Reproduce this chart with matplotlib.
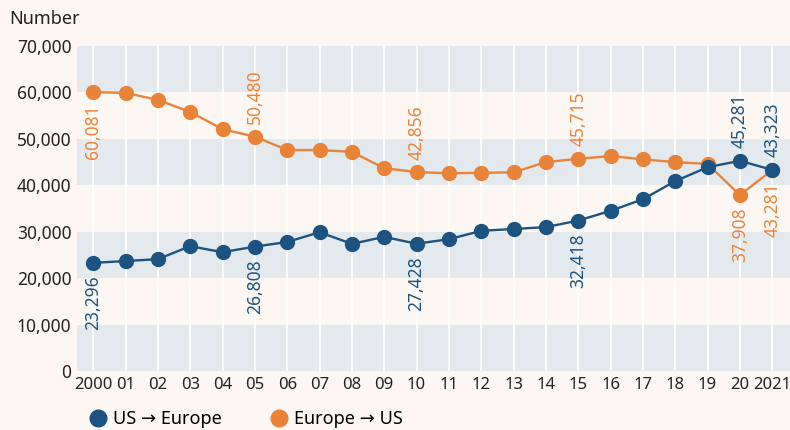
import matplotlib.pyplot as plt
from matplotlib.lines import Line2D
from matplotlib.ticker import FuncFormatter

years = list(range(2000, 2022))
us_to_europe = [23296, 23700, 24100, 26900, 25600, 26808, 27800, 29900, 27400, 28900,
                27428, 28400, 30200, 30600, 31000, 32418, 34500, 37000, 40900, 43900,
                45281, 43323]
europe_to_us = [60081, 59900, 58400, 55800, 52100, 50480, 47600, 47600, 47200, 43700,
                42856, 42600, 42700, 42800, 45000, 45715, 46300, 45600, 45000, 44600,
                37908, 43281]
tick_labels = ["2000"] + ["%02d" % (y % 100) for y in years[1:-1]] + ["2021"]

# labelled points: (year, position)
us_labels = {2000: "below", 2005: "below", 2010: "below", 2015: "below", 2020: "above", 2021: "above"}
eu_labels = {2000: "below", 2005: "above", 2010: "above", 2015: "above", 2020: "below", 2021: "below"}

blue = "#1c5380"
orange = "#e8833a"
bg = "#fdf7f3"
band = "#e4e9ee"

plt.rcParams['font.family'] = ['Noto Sans', 'DejaVu Sans']

fig = plt.figure(figsize=(7.9, 4.3), dpi=100, facecolor=bg)
ax = fig.add_axes([0.0975, 0.137, 0.9025, 0.756])
ax.set_facecolor(bg)

for lo in range(0, 70000, 20000):
    ax.axhspan(lo, lo + 10000, color=band, zorder=0, lw=0)
for y in years:
    ax.axvline(y, color="white", lw=1.3, zorder=1)

ax.plot(years, europe_to_us, color=orange, lw=1.7, marker="o", ms=10, zorder=3)
ax.plot(years, us_to_europe, color=blue, lw=1.7, marker="o", ms=10, zorder=4)

def put_labels(vals, spec, color):
    for yr, pos in spec.items():
        v = vals[yr - 2000]
        if pos == "above":
            ax.annotate("{:,}".format(v), (yr, v), xytext=(0, 9), textcoords="offset points",
                        rotation=90, ha="center", va="bottom", color=color, fontsize=12.5, zorder=5)
        else:
            ax.annotate("{:,}".format(v), (yr, v), xytext=(0, -9), textcoords="offset points",
                        rotation=90, ha="center", va="top", color=color, fontsize=12.5, zorder=5)

put_labels(us_to_europe, us_labels, blue)
put_labels(europe_to_us, eu_labels, orange)

ax.set_xlim(1999.5, 2021.55)
ax.set_ylim(0, 70000)
ax.set_xticks(years)
ax.set_xticklabels(tick_labels)
ax.set_yticks(range(0, 70001, 10000))
ax.yaxis.set_major_formatter(FuncFormatter(lambda v, p: "{:,}".format(int(v))))
ax.tick_params(length=0, labelsize=12.5, colors="#222222", pad=4)
ax.tick_params(axis="x", labelsize=12)
for s in ax.spines.values():
    s.set_visible(False)

fig.text(0.012, 0.955, "Number", fontsize=13, color="#222222", va="center")

handles = [Line2D([], [], color=blue, marker="o", ls="", ms=12),
           Line2D([], [], color=orange, marker="o", ls="", ms=12)]
fig.legend(handles, ["US \u2192 Europe", "Europe \u2192 US"], loc="center left",
           bbox_to_anchor=(0.09, 0.025), ncol=2, frameon=False, fontsize=13,
           handletextpad=0.2, columnspacing=2.6, handlelength=1.2)

fig.savefig("out.png", dpi=100, facecolor=bg)
